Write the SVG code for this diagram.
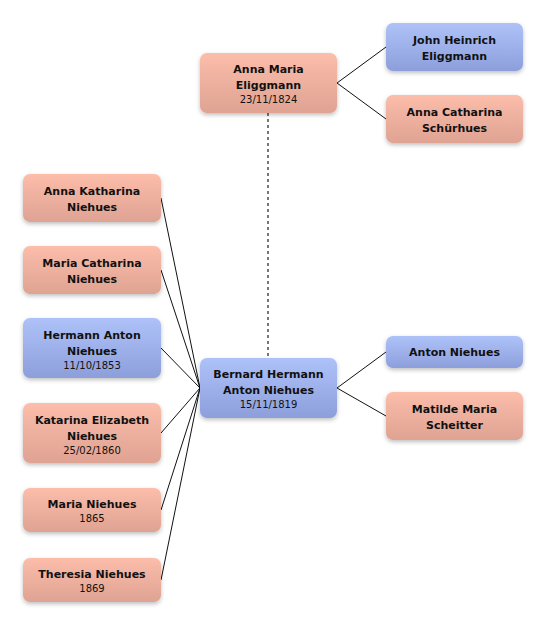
<svg xmlns="http://www.w3.org/2000/svg" width="546" height="626" viewBox="0 0 546 626">
<defs>
<linearGradient id="pink" x1="0" y1="0" x2="0" y2="1">
<stop offset="0" stop-color="#fcbdaa"/>
<stop offset="1" stop-color="#dfa393"/>
</linearGradient>
<linearGradient id="blue" x1="0" y1="0" x2="0" y2="1">
<stop offset="0" stop-color="#aec2f9"/>
<stop offset="1" stop-color="#8d9fdb"/>
</linearGradient>
<filter id="sh" x="-20%" y="-20%" width="140%" height="150%">
<feDropShadow dx="0" dy="2" stdDeviation="2" flood-color="#000" flood-opacity="0.25"/>
</filter>
</defs>
<style>
.p{fill:url(#pink);filter:url(#sh)}
.b{fill:url(#blue);filter:url(#sh)}
text{font-family:"DejaVu Sans","Liberation Sans",sans-serif;text-anchor:middle;fill:#111}
.n{font-size:11px;font-weight:bold}
.d{font-size:10px}
.c line{stroke:#111;stroke-width:1;fill:none}
.c .dash{stroke:#777;stroke-width:2;stroke-dasharray:3 3}
</style>
<rect width="546" height="626" fill="#fff"/>
<g class="c" id="connectors">
<line class="dash" x1="268" y1="113" x2="268" y2="358"/>
<line x1="337" y1="83" x2="386" y2="47"/>
<line x1="337" y1="83" x2="386" y2="119"/>
<line x1="337" y1="388" x2="386" y2="352"/>
<line x1="337" y1="388" x2="386" y2="416"/>
<line x1="161" y1="198" x2="200" y2="388"/>
<line x1="161" y1="270" x2="200" y2="388"/>
<line x1="161" y1="348" x2="200" y2="388"/>
<line x1="161" y1="433" x2="200" y2="388"/>
<line x1="161" y1="510" x2="200" y2="388"/>
<line x1="161" y1="580" x2="200" y2="388"/>
</g>
<g id="anna-maria">
<rect class="p" x="200" y="53" width="137" height="60" rx="7"/>
<text class="n" x="268.5" y="73">Anna Maria</text>
<text class="n" x="268.5" y="89">Eliggmann</text>
<text class="d" x="268.5" y="103">23/11/1824</text>
</g>
<g id="john-heinrich">
<rect class="b" x="386" y="23" width="137" height="48" rx="7"/>
<text class="n" x="454.5" y="44">John Heinrich</text>
<text class="n" x="454.5" y="60">Eliggmann</text>
</g>
<g id="anna-catharina">
<rect class="p" x="386" y="95" width="137" height="48" rx="7"/>
<text class="n" x="454.5" y="116">Anna Catharina</text>
<text class="n" x="454.5" y="132">Schürhues</text>
</g>
<g id="bernard">
<rect class="b" x="200" y="358" width="137" height="60" rx="7"/>
<text class="n" x="268.5" y="378">Bernard Hermann</text>
<text class="n" x="268.5" y="394">Anton Niehues</text>
<text class="d" x="268.5" y="408">15/11/1819</text>
</g>
<g id="anton">
<rect class="b" x="386" y="336" width="137" height="32" rx="7"/>
<text class="n" x="454.5" y="356">Anton Niehues</text>
</g>
<g id="matilde">
<rect class="p" x="386" y="392" width="137" height="48" rx="7"/>
<text class="n" x="454.5" y="413">Matilde Maria</text>
<text class="n" x="454.5" y="429">Scheitter</text>
</g>
<g id="anna-katharina">
<rect class="p" x="23" y="174" width="138" height="48" rx="7"/>
<text class="n" x="92" y="195">Anna Katharina</text>
<text class="n" x="92" y="211">Niehues</text>
</g>
<g id="maria-catharina">
<rect class="p" x="23" y="246" width="138" height="48" rx="7"/>
<text class="n" x="92" y="267">Maria Catharina</text>
<text class="n" x="92" y="283">Niehues</text>
</g>
<g id="hermann-anton">
<rect class="b" x="23" y="318" width="138" height="60" rx="7"/>
<text class="n" x="92" y="339">Hermann Anton</text>
<text class="n" x="92" y="355">Niehues</text>
<text class="d" x="92" y="369">11/10/1853</text>
</g>
<g id="katarina-elizabeth">
<rect class="p" x="23" y="403" width="138" height="60" rx="7"/>
<text class="n" x="92" y="424">Katarina Elizabeth</text>
<text class="n" x="92" y="440">Niehues</text>
<text class="d" x="92" y="454">25/02/1860</text>
</g>
<g id="maria-niehues">
<rect class="p" x="23" y="488" width="138" height="44" rx="7"/>
<text class="n" x="92" y="508">Maria Niehues</text>
<text class="d" x="92" y="522">1865</text>
</g>
<g id="theresia">
<rect class="p" x="23" y="558" width="138" height="44" rx="7"/>
<text class="n" x="92" y="578">Theresia Niehues</text>
<text class="d" x="92" y="592">1869</text>
</g>
</svg>
